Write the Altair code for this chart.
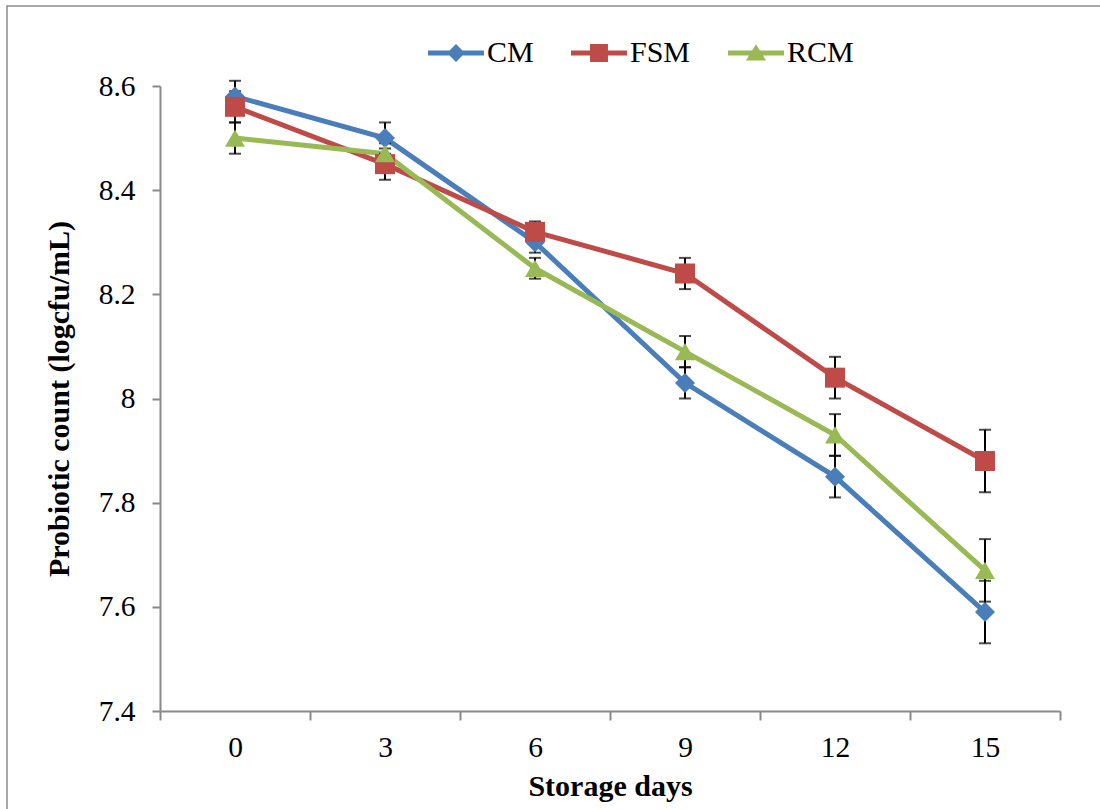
import altair as alt
import pandas as pd

days = ["0", "3", "6", "9", "12", "15"]
series_names = ["CM", "FSM", "RCM"]
cm = [8.58, 8.50, 8.30, 8.03, 7.85, 7.59]
fsm = [8.56, 8.45, 8.32, 8.24, 8.04, 7.88]
rcm = [8.50, 8.47, 8.25, 8.09, 7.93, 7.67]
cm_err = [0.03, 0.03, 0.02, 0.03, 0.04, 0.06]
fsm_err = [0.03, 0.03, 0.02, 0.03, 0.04, 0.06]
rcm_err = [0.03, 0.02, 0.02, 0.03, 0.04, 0.06]
y_ticks = [7.4, 7.6, 7.8, 8.0, 8.2, 8.4, 8.6]

colors = ["#4A7EBB", "#BE4B48", "#98B954"]
shapes = ["diamond", "square", "triangle-up"]
sizes = [400, 400, 480]
legend_paths = [
    "M-1,-0.09L1,-0.09L1,0.09L-1,0.09Z M0,-0.32L0.32,0L0,0.32L-0.32,0Z",
    "M-1,-0.09L1,-0.09L1,0.09L-1,0.09Z M-0.32,-0.32L0.32,-0.32L0.32,0.32L-0.32,0.32Z",
    "M-1,-0.09L1,-0.09L1,0.09L-1,0.09Z M0,-0.31L0.36,0.27L-0.36,0.27Z",
]

rows = []
for name, vals, errs in [("CM", cm, cm_err), ("FSM", fsm, fsm_err), ("RCM", rcm, rcm_err)]:
    for d, v, e in zip(days, vals, errs):
        rows.append({"day": d, "series": name, "value": v, "lo": v - e, "hi": v + e})
df = pd.DataFrame(rows)

FONT = "Liberation Serif"
AXIS_GRAY = "#898989"

common_axis = dict(
    labelFont=FONT,
    labelFontSize=29.5,
    labelColor="black",
    titleFont=FONT,
    titleFontSize=30,
    titleFontWeight="bold",
    titleColor="black",
    domainColor=AXIS_GRAY,
    domainWidth=2,
    tickColor=AXIS_GRAY,
    tickWidth=2,
    grid=False,
)

x_enc = alt.X(
    "day:O",
    sort=days,
    scale=alt.Scale(domain=days, paddingInner=0, paddingOuter=0),
    axis=alt.Axis(
        title="Storage days",
        labelAngle=0,
        tickBand="extent",
        tickSize=9,
        labelPadding=13,
        titlePadding=10,
        **common_axis,
    ),
)
y_scale = alt.Scale(domain=[7.4, 8.6], nice=False, zero=False)
y_axis = alt.Axis(
    title="Probiotic count (logcfu/mL)",
    values=y_ticks,
    format="~g",
    tickSize=8,
    labelPadding=17,
    titlePadding=24,
    **common_axis,
)
y_enc = alt.Y("value:Q", scale=y_scale, axis=y_axis)

color_scale = alt.Scale(domain=series_names, range=colors)
color_nolegend = alt.Color("series:N", scale=color_scale, legend=None)

base = alt.Chart(df)

frame = alt.Chart(pd.DataFrame({"f": [0]})).mark_rect(
    fill="transparent", stroke="#8C8C8C", strokeWidth=1.5
).encode(
    x=alt.value(-153), x2=alt.value(1000), y=alt.value(-80), y2=alt.value(800)
)

lines = base.mark_line(strokeWidth=5).encode(
    x=x_enc, y=y_enc, color=color_nolegend, detail="series:N"
)

err_rule = base.mark_rule(color="black", strokeWidth=2).encode(
    x=x_enc, y=alt.Y("lo:Q", scale=y_scale), y2="hi:Q"
)
cap_lo = base.mark_tick(color="black", thickness=2, size=12, orient="horizontal").encode(
    x=x_enc, y=alt.Y("lo:Q", scale=y_scale)
)
cap_hi = base.mark_tick(color="black", thickness=2, size=12, orient="horizontal").encode(
    x=x_enc, y=alt.Y("hi:Q", scale=y_scale)
)

points = base.mark_point(filled=True, opacity=1).encode(
    x=x_enc,
    y=y_enc,
    color=color_nolegend,
    shape=alt.Shape("series:N", scale=alt.Scale(domain=series_names, range=shapes), legend=None),
    size=alt.Size("series:N", scale=alt.Scale(domain=series_names, range=sizes), legend=None),
)

legend_layer = base.mark_point(filled=True, opacity=0).encode(
    x=x_enc,
    y=y_enc,
    color=alt.Color(
        "series:N",
        scale=color_scale,
        legend=alt.Legend(title=None),
    ),
    shape=alt.Shape(
        "series:N",
        scale=alt.Scale(domain=series_names, range=legend_paths),
        legend=alt.Legend(title=None),
    ),
)

chart = alt.layer(frame, lines, err_rule, cap_lo, cap_hi, points, legend_layer).resolve_scale(
    color="independent", shape="independent", size="independent"
).properties(
    width=900,
    height=625,
    padding={"left": 160, "top": 86, "right": 40, "bottom": 98},
    autosize=alt.AutoSizeParams(type="none"),
).configure_view(
    stroke=None
).configure_axis(
    labelFont=FONT,
    titleFont=FONT,
).configure_legend(
    orient="none",
    legendX=268,
    legendY=-61,
    direction="horizontal",
    symbolSize=3136,
    symbolOpacity=1,
    symbolStrokeWidth=0,
    labelFont=FONT,
    labelFontSize=30,
    labelColor="black",
    labelOffset=3,
    columnPadding=37,
    padding=0,
)

chart.save("out.html", embed_options={"renderer": "svg", "actions": False})
